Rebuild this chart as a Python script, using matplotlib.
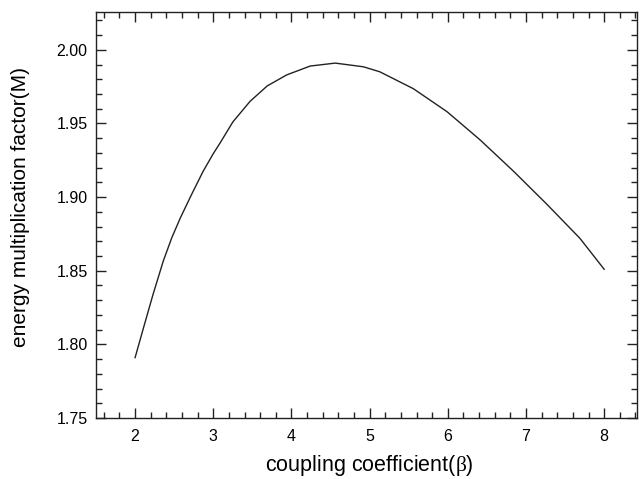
import matplotlib
matplotlib.use("Agg")
import matplotlib.pyplot as plt
from matplotlib.ticker import MultipleLocator

# values
beta = [2.0, 2.11, 2.23, 2.36, 2.47, 2.58, 2.72, 2.87, 3.0, 3.09, 3.25, 3.47,
        3.69, 3.94, 4.24, 4.56, 4.92, 5.13, 5.56, 5.99, 6.41, 6.84, 7.27,
        7.69, 8.0]
gain = [1.791, 1.8117, 1.834, 1.8565, 1.8725, 1.886, 1.9015, 1.9175, 1.9295,
        1.937, 1.951, 1.965, 1.9755, 1.983, 1.989, 1.991, 1.9885, 1.9851,
        1.9736, 1.958, 1.939, 1.9176, 1.895, 1.872, 1.851]

x_label = "coupling coefficient($\\beta$)"
y_label = "energy multiplication factor(M)"


def main():
    plt.rcParams['font.family'] = ['Liberation Sans', 'DejaVu Sans']
    plt.rcParams['mathtext.fontset'] = 'custom'
    plt.rcParams['mathtext.rm'] = 'Liberation Serif'
    plt.rcParams['mathtext.it'] = 'Liberation Serif'

    fig = plt.figure(figsize=(6.42, 4.79), dpi=100)
    ax = fig.add_axes([96 / 642, 1 - 418 / 479, 541 / 642, 406 / 479])

    ax.plot(beta, gain, color='#222222', linewidth=1.0)

    ax.set_xlim(1.5, 8.42)
    ax.set_ylim(1.75, 2.0257)
    ax.xaxis.set_major_locator(MultipleLocator(1))
    ax.xaxis.set_minor_locator(MultipleLocator(0.2))
    ax.yaxis.set_major_locator(MultipleLocator(0.05))
    ax.yaxis.set_minor_locator(MultipleLocator(0.01))
    ax.yaxis.set_major_formatter(plt.FormatStrFormatter('%.2f'))

    ax.tick_params(which='both', direction='in', top=True, right=True,
                   width=1.0, labelsize=11.5, color='#222222')
    ax.tick_params(which='major', length=7)
    ax.tick_params(which='minor', length=4)
    ax.tick_params(axis='x', which='major', pad=8)
    ax.tick_params(axis='y', which='major', pad=6)
    for sp in ax.spines.values():
        sp.set_linewidth(1.0)
        sp.set_color('#222222')

    ax.set_xlabel(x_label, fontsize=15.5)
    ax.set_ylabel(y_label, fontsize=15)
    ax.xaxis.set_label_coords(0.506, -0.086)
    ax.yaxis.set_label_coords(-0.122, 0.52)

    fig.savefig('out.png', dpi=100)


if __name__ == '__main__':
    main()
